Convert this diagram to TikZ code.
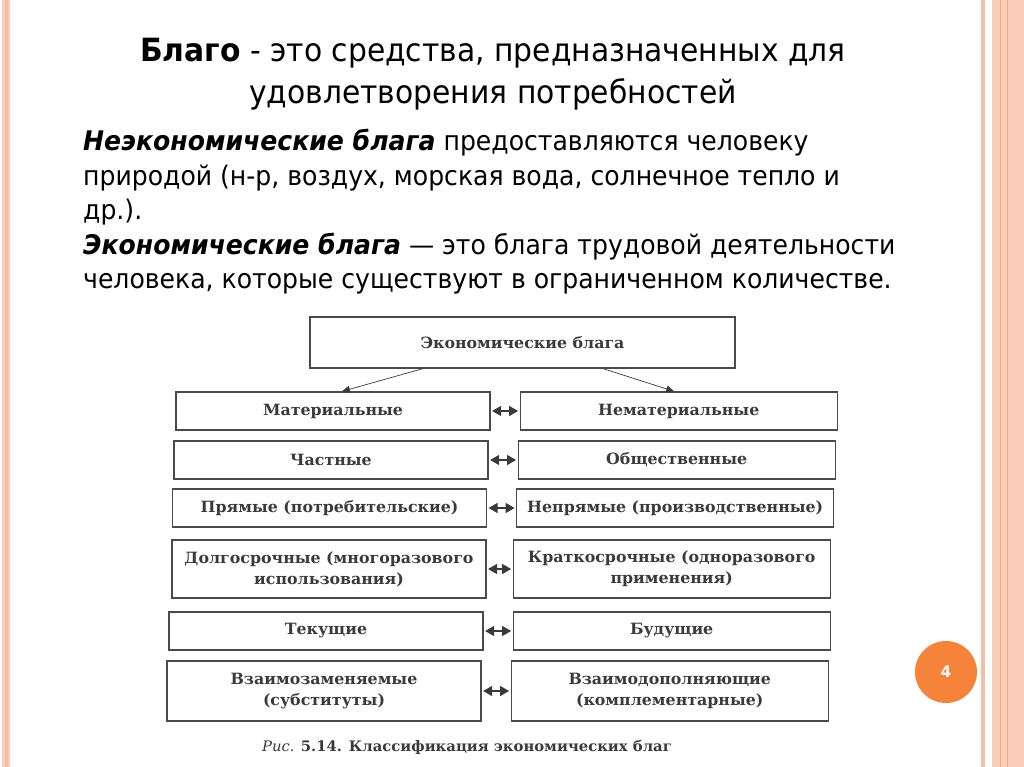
\documentclass[tikz,border=0pt]{standalone}
\usepackage{fontspec}
\setmainfont{DejaVu Sans}[FakeStretch=0.93]
\newfontfamily\diagfont{DejaVu Serif}[FakeStretch=1.02]
\usepackage{xcolor}
\usetikzlibrary{arrows.meta, positioning}
\definecolor{stripelight}{HTML}{F9CDB8}
\definecolor{stripe}{HTML}{F4BFA8}
\definecolor{stripedark}{HTML}{EFA98A}
\definecolor{pageorange}{HTML}{F5833A}
\definecolor{inkgray}{HTML}{3A3A3A}
\definecolor{boxgray}{HTML}{4A4A4A}

\begin{document}
\begin{tikzpicture}[x=1pt, y=-1pt,
                    block/.style={rectangle, draw=boxgray, line width=1.2pt, minimum width=314pt, minimum height=38pt, align=center, inner sep=2pt, text=inkgray, font=\diagfont\bfseries\fontsize{15.5}{21}\selectfont},
                    wideblock/.style={block, minimum width=317pt},
                    tallblock/.style={minimum height=58pt},
                    pair/.style={{Triangle[length=9pt,width=10pt]}-{Triangle[length=9pt,width=10pt]}, line width=1.2pt, draw=inkgray, shorten <=1.5pt, shorten >=1.5pt},
                    down/.style={-{Triangle[length=8pt,width=7pt]}, line width=0.7pt, draw=inkgray},
                    node distance=29pt]

% Page and side stripes
\fill[white] (0,0) rectangle (1024,767);
\useasboundingbox (0,0) rectangle (1024,767);
\fill[stripelight] (2,0) rectangle (10,767);
\fill[stripe] (4.5,0) rectangle (8,767);
\fill[stripe] (981,0) rectangle (985,767);
\fill[stripelight] (992,0) rectangle (1024,767);
\draw[stripedark, line width=1pt] (1000,0) -- (1000,767);
\draw[stripedark, line width=1pt] (1007,0) -- (1007,767);

% Slide texts
\node[align=center, anchor=north, font=\fontsize{32}{42}\selectfont] (title) at (493,35)
  {\textbf{Благо} - это средства, предназначенных для\\удовлетворения потребностей};
\node[align=left, anchor=north west, inner sep=0pt, font=\fontsize{27}{34.5}\selectfont] (intro) at (83,129)
  {\textbf{\textit{Неэкономические блага}} предоставляются человеку\\
   природой (н-р, воздух, морская вода, солнечное тепло и\\
   др.).\\
   \textbf{\textit{Экономические блага}} — это блага трудовой деятельности\\
   человека, которые существуют в ограниченном количестве.};

% The classification scheme
\node[block, minimum width=425pt, minimum height=51pt] (econ) at (522.5,342.5) {Экономические блага};

\node[block] (material) at (333,411) {Материальные};
\node[wideblock, right=of material] (nonmaterial) {Нематериальные};

\node[block] (private) at (331,460) {Частные};
\node[wideblock, right=of private] (public) {Общественные};

\node[block] (direct) at (329.5,508) {Прямые (потребительские)};
\node[wideblock, right=of direct] (indirect) {Непрямые (производственные)};

\node[block, tallblock] (durable) at (329,569) {Долгосрочные (многоразового\\использования)};
\node[wideblock, tallblock, right=26pt of durable] (shortterm) {Краткосрочные (одноразового\\применения)};

\node[block] (current) at (326,631) {Текущие};
\node[wideblock, right=of current] (future) {Будущие};

\node[block, minimum height=60pt] (substitute) at (324,691) {Взаимозаменяемые\\(субституты)};
\node[wideblock, minimum height=60pt, right=of substitute] (complement) {Взаимодополняющие\\(комплементарные)};

\draw[down] ([xshift=-99.5pt]econ.south) -- ([xshift=9pt]material.north);
\draw[down] ([xshift=80.5pt]econ.south) -- ([xshift=-4.5pt]nonmaterial.north);

\foreach \a/\b in {material/nonmaterial, private/public, direct/indirect, durable/shortterm, current/future, substitute/complement}
  \draw[pair] (\a) -- (\b);

\node[anchor=west, inner sep=0pt, text=inkgray, font=\diagfont\fontsize{14.5}{18}\selectfont] (caption) at (262,747)
  {\textit{Рис.} \textbf{5.14. Классификация экономических благ}};

% Page number
\node[circle, fill=pageorange, minimum size=62pt, inner sep=0pt, text=white, font=\bfseries\fontsize{16}{16}\selectfont] (pagenum) at (946,672) {4};

\end{tikzpicture}
\end{document}
